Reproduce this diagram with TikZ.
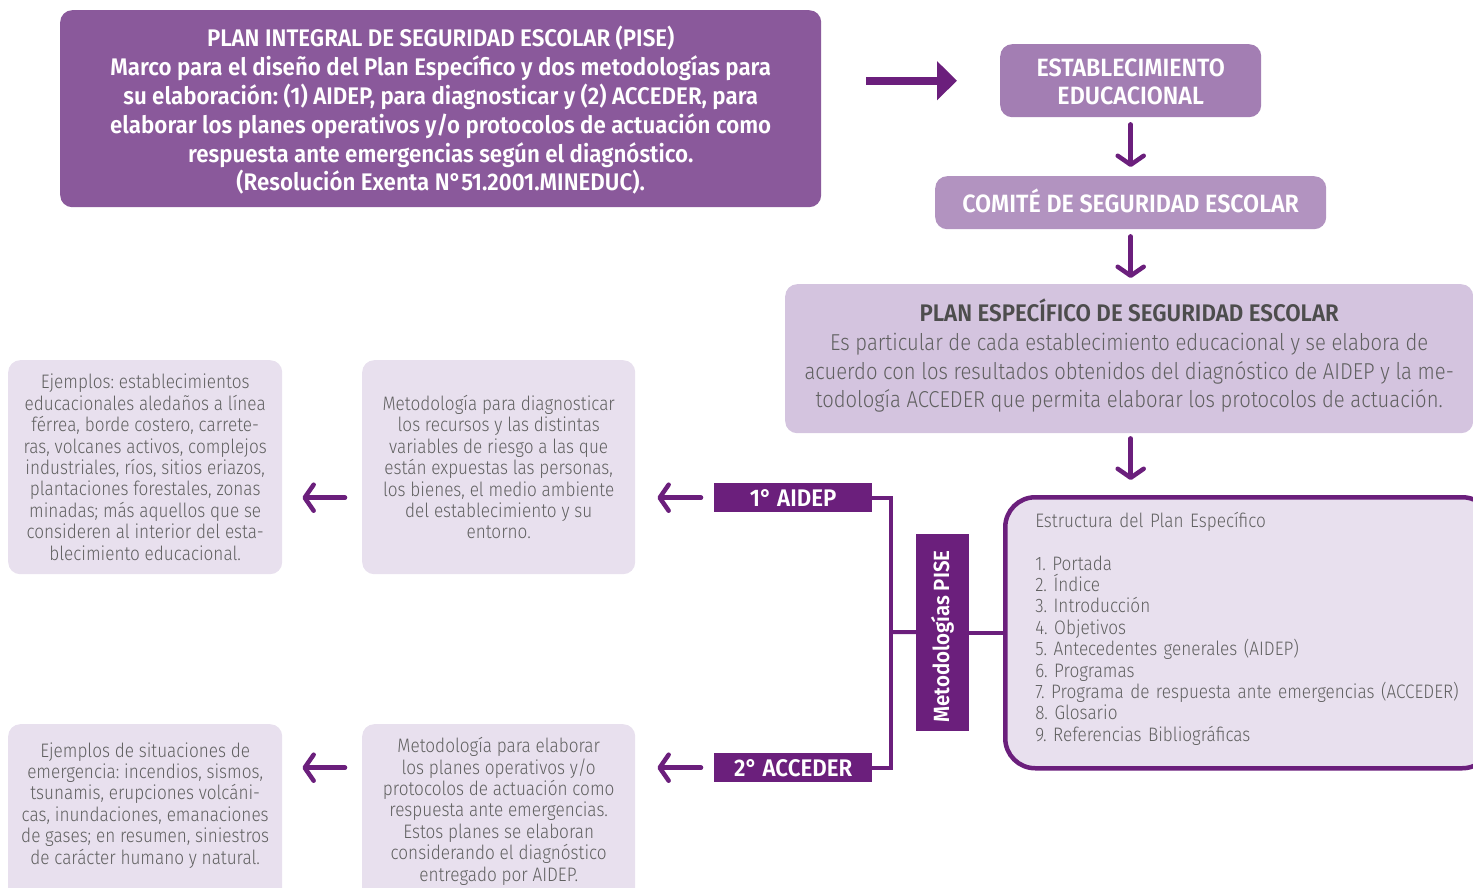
\documentclass[tikz,border=0pt]{standalone}
\usepackage{fontspec}
\setmainfont{Fira Sans}
\newfontfamily\lt{Fira Sans Light}[FakeStretch=0.88]
\newfontfamily\bd{Fira Sans SemiBold}[FakeStretch=0.93]
\usetikzlibrary{arrows.meta}
\frenchspacing
\definecolor{cTop}{RGB}{138,89,155}
\definecolor{cEst}{RGB}{163,126,179}
\definecolor{cCom}{RGB}{178,147,192}
\definecolor{cPlan}{RGB}{212,196,223}
\definecolor{cLight}{RGB}{232,224,238}
\definecolor{cDark}{RGB}{107,31,124}
\definecolor{cTxt}{RGB}{96,96,96}
\definecolor{cTitle}{RGB}{77,77,77}
\begin{document}
\begin{tikzpicture}[x=1pt,y=-1pt,
  box/.style={rounded corners=12pt, inner sep=0pt, align=center, anchor=north west},
  wbold/.style={text=white, font=\bd\fontsize{24}{28.8}\selectfont},
  wbig/.style={text=white, font=\bd\fontsize{25}{28.8}\selectfont},
  smalltxt/.style={text=cTxt, font=\lt\fontsize{19.5}{21.4}\selectfont},
  lab/.style={fill=cDark, text=white, inner sep=0pt, font=\bd\fontsize{24}{24}\selectfont},
  conn/.style={draw=cDark, line width=4pt},
  arr/.style={draw=cDark, line width=4.5pt, line cap=round, -{Straight Barb[length=9pt, width=26pt, line width=4.5pt, round]}},
]
\useasboundingbox (0,0) rectangle (1473,888);

% top box
\node[box, fill=cTop, minimum width=761, minimum height=197, wbold] (pise) at (60,10)
 {PLAN INTEGRAL DE SEGURIDAD ESCOLAR (PISE)\\
  Marco para el diseño del Plan Específico y dos metodologías para\\
  su elaboración: (1) AIDEP, para diagnosticar y (2) ACCEDER, para\\
  elaborar los planes operativos y/o protocolos de actuación como\\
  respuesta ante emergencias según el diagnóstico.\\
  (Resolución Exenta N°51.2001.MINEDUC).\\[-28.8pt]};

\node[box, fill=cEst, minimum width=261, minimum height=73, wbig] (est) at (1000,44)
 {ESTABLECIMIENTO\\EDUCACIONAL\\[-30.8pt]};
\node[box, fill=cCom, minimum width=391, minimum height=53, wbig] (com) at (935,176)
 {\raisebox{4pt}{COMITÉ DE SEGURIDAD ESCOLAR}};
\node[box, fill=cPlan, minimum width=688, minimum height=149, text=cTxt,
      font=\lt\fontsize{23}{28.7}\selectfont] (plan) at (785,284)
 {\textcolor{cTitle}{\bd\fontsize{24}{28.7}\selectfont PLAN ESPECÍFICO DE SEGURIDAD ESCOLAR}\\
  Es particular de cada establecimiento educacional y se elabora de\\
  acuerdo con los resultados obtenidos del diagnóstico de AIDEP y la me-\\
  todología ACCEDER que permita elaborar los protocolos de actuación.\\[-18pt]};

% structure box
\node[box, fill=cLight, draw=cDark, line width=4.5pt, rounded corners=30pt,
      minimum width=487, minimum height=271, align=left, text width=427,
      text=cTxt, font=\lt\fontsize{19.5}{21.4}\selectfont] (estr) at (1003,495)
 {Estructura del Plan Específico\\[21.4pt]
  1. Portada\\
  2. Índice\\
  3. Introducción\\
  4. Objetivos\\
  5. Antecedentes generales (AIDEP)\\
  6. Programas\\
  7. Programa de respuesta ante emergencias (ACCEDER)\\
  8. Glosario\\
  9. Referencias Bibliográficas\par\vspace*{8pt}};

% methodology label
\node[lab, rotate=90, minimum width=197, minimum height=53, font=\bd\fontsize{22}{24}\selectfont] (met) at (942.5,632.5) {Metodologías PISE\hspace*{8pt}};
\node[lab, minimum width=158, minimum height=29, anchor=north west] (aidep) at (714,483) {1° AIDEP};
\node[lab, minimum width=158, minimum height=29, anchor=north west] (acc) at (714,753) {2° ACCEDER};

% middle boxes
\node[box, fill=cLight, minimum width=273, minimum height=214, smalltxt] (mid1) at (362,360)
 {Metodología para diagnosticar\\
  los recursos y las distintas\\
  variables de riesgo a las que\\
  están expuestas las personas,\\
  los bienes, el medio ambiente\\
  del establecimiento y su\\
  entorno.};
\node[box, fill=cLight, minimum width=273, minimum height=190, smalltxt] (mid2) at (362,724)
 {Metodología para elaborar\\
  los planes operativos y/o\\
  protocolos de actuación como\\
  respuesta ante emergencias.\\
  Estos planes se elaboran\\
  considerando el diagnóstico\\
  entregado por AIDEP.\\[-1.4pt]};

% left boxes
\node[box, fill=cLight, minimum width=274, minimum height=214, smalltxt] (ex1) at (8,360)
 {Ejemplos: establecimientos\\
  educacionales aledaños a línea\\
  férrea, borde costero, carrete-\\
  ras, volcanes activos, complejos\\
  industriales, ríos, sitios eriazos,\\
  plantaciones forestales, zonas\\
  minadas; más aquellos que se\\
  consideren al interior del esta-\\
  blecimiento educacional.};
\node[box, fill=cLight, minimum width=274, minimum height=190, smalltxt] (ex2) at (8,724)
 {Ejemplos de situaciones de\\
  emergencia: incendios, sismos,\\
  tsunamis, erupciones volcáni-\\
  cas, inundaciones, emanaciones\\
  de gases; en resumen, siniestros\\
  de carácter humano y natural.\\[10.6pt]};

% connectors
\coordinate (jm) at (891,632);
\draw[conn] (aidep.east) -| (jm) |- (acc.east);
\draw[conn] (jm) -- (met);
\draw[conn] (met) -- (estr.west |- met);

% arrows
\draw[draw=cDark, line width=8pt, -{Triangle[length=20pt, width=38pt]}]
  ([xshift=-134pt]est.west) -- ([xshift=-43pt]est.west);
\draw[arr] ([yshift=-7pt]est.south) -- ([yshift=9pt]com.north);
\draw[arr] ([yshift=-7pt]com.south) -- ([yshift=6pt]plan.north -| com.south);
\draw[arr] ([yshift=-5pt]plan.south -| com.south) -- ([yshift=15pt]estr.north -| com.south);
\draw[arr] ([xshift=-13pt]aidep.west) -- ([xshift=22pt]mid1.east |- aidep.west);
\draw[arr] ([xshift=-13pt]acc.west) -- ([xshift=22pt]mid2.east |- acc.west);
\draw[arr] ([xshift=-17pt]mid1.west |- aidep.west) -- ([xshift=20pt]ex1.east |- aidep.west);
\draw[arr] ([xshift=-17pt]mid2.west |- acc.west) -- ([xshift=20pt]ex2.east |- acc.west);
\end{tikzpicture}
\end{document}
